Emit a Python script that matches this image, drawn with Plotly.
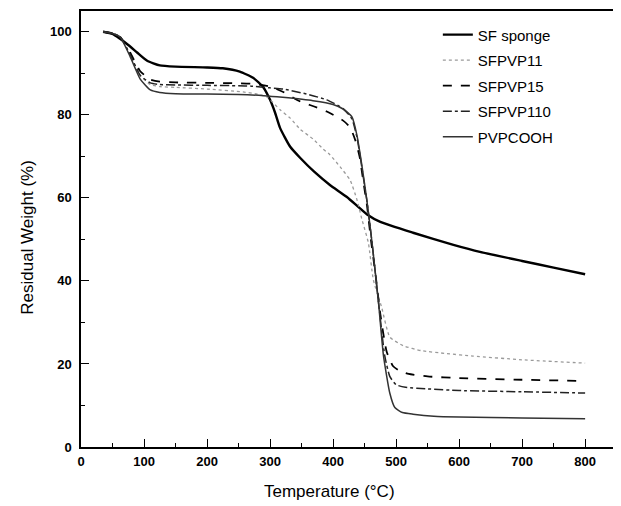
import plotly.graph_objects as go

# ---- data (Temperature in °C, Residual Weight in %) ----
sf_T = [35, 50, 62, 75, 89, 105, 125, 150, 200, 225, 252, 273, 289, 300, 308, 316, 332, 348, 370, 395, 422, 454, 475, 527, 591, 633, 700, 750, 800]
sf_W = [100, 99.5, 98.3, 96.8, 95.0, 93.0, 91.9, 91.6, 91.4, 91.2, 90.4, 88.9, 86.7, 83.6, 80.5, 76.8, 72.3, 69.6, 66.3, 63.1, 60.2, 56.0, 54.2, 51.6, 48.7, 47.0, 44.8, 43.2, 41.6]

p11_T = [35, 50, 62, 78, 94, 110, 125, 150, 200, 257, 280, 295, 316, 332, 348, 368, 384, 395, 411, 427, 438, 446, 456, 464, 477, 490, 511, 540, 580, 622, 700, 800]
p11_W = [100, 99.6, 98.8, 94.5, 89.5, 87.3, 86.8, 86.6, 86.2, 85.5, 85.0, 84.3, 81.2, 79.2, 76.5, 74.2, 71.8, 70.4, 67.5, 64.3, 59.5, 54.7, 49.2, 40.2, 33.7, 26.5, 24.4, 23.2, 22.5, 21.9, 21.0, 20.2]

p15_T = [35, 50, 62, 78, 94, 110, 125, 150, 200, 250, 270, 300, 321, 348, 370, 390, 416, 427, 435, 442, 448, 454, 460, 467, 475, 485, 495, 505, 520, 550, 600, 700, 800]
p15_W = [100, 99.6, 98.8, 95.0, 90.5, 88.5, 88.0, 87.8, 87.7, 87.6, 87.5, 86.8, 85.5, 83.2, 82.0, 80.8, 78.6, 77.0, 74.0, 70.0, 64.0, 58.0, 50.0, 42.0, 32.0, 23.0, 19.5, 18.4, 17.6, 17.0, 16.6, 16.2, 15.9]

p110_T = [35, 50, 62, 78, 94, 110, 125, 150, 200, 250, 270, 300, 321, 358, 390, 416, 430, 438, 443, 448, 454, 462, 472, 482, 490, 500, 515, 550, 600, 700, 800]
p110_W = [100, 99.6, 98.8, 94.5, 89.5, 87.7, 87.3, 87.2, 87.1, 87.0, 86.9, 86.5, 86.2, 85.0, 83.6, 81.5, 79.0, 74.5, 70.0, 65.0, 59.0, 49.0, 35.0, 22.0, 17.0, 15.0, 14.4, 14.0, 13.6, 13.3, 13.0]

pvp_T = [35, 50, 62, 78, 94, 110, 125, 150, 200, 250, 290, 320, 368, 400, 416, 430, 438, 443, 448, 454, 462, 472, 480, 490, 498, 510, 527, 560, 600, 700, 800]
pvp_W = [100, 99.6, 98.8, 94.0, 88.6, 86.0, 85.4, 85.1, 85.0, 84.9, 84.6, 84.2, 83.4, 82.5, 81.4, 79.5, 75.0, 70.5, 65.5, 59.0, 49.0, 35.0, 22.0, 13.0, 9.5, 8.3, 7.9, 7.4, 7.2, 7.0, 6.8]

series = [
    ("SF sponge", sf_T, sf_W, dict(color="black", width=2.4, dash="solid")),
    ("SFPVP11", p11_T, p11_W, dict(color="#9a9a9a", width=1.3, dash="dot")),
    ("SFPVP15", p15_T, p15_W, dict(color="black", width=1.8, dash="dash")),
    ("SFPVP110", p110_T, p110_W, dict(color="#222222", width=1.5, dash="dashdot")),
    ("PVPCOOH", pvp_T, pvp_W, dict(color="#333333", width=1.5, dash="solid")),
]

x_ticks = [0, 100, 200, 300, 400, 500, 600, 700, 800]
y_ticks = [0, 20, 40, 60, 80, 100]
x_title = "Temperature (°C)"
y_title = "Residual Weight (%)"

fig = go.Figure()
for i, (name, T, W, ln) in enumerate(series):
    fig.add_trace(go.Scatter(x=T, y=W, mode="lines", name=name,
                             line=dict(shape="spline", smoothing=0.5, **ln),
                             legendgroup=f"g{i}"))

tickfont = dict(family="Liberation Sans, Arial", size=13, color="black", weight="bold")
axis_common = dict(showline=True, linecolor="black", linewidth=1.5, mirror=True,
                   ticks="inside", ticklen=8, tickwidth=1.3, tickcolor="black",
                   showgrid=False, zeroline=False, tickfont=tickfont, automargin=False)

# the page body adds an 8px margin, so the figure is sized/offset to compensate
fig.update_layout(
    width=613, height=498,
    margin=dict(l=73, r=5, t=3, b=59),
    paper_bgcolor="white", plot_bgcolor="white",
    font=dict(family="Liberation Sans, Arial", color="black"),
    xaxis=dict(range=[0, 849], tickvals=x_ticks, ticktext=[str(v) for v in x_ticks],
               minor=dict(ticks="inside", ticklen=4, tickwidth=1.2, tickcolor="black", dtick=50, tick0=0),
               ticklabelstandoff=2, **axis_common),
    yaxis=dict(range=[0, 105], tickvals=y_ticks, ticktext=[str(v) for v in y_ticks],
               minor=dict(ticks="inside", ticklen=4, tickwidth=1.2, tickcolor="black", dtick=10, tick0=0),
               ticklabelstandoff=5, **axis_common),
    legend=dict(x=0.667, y=0.983, xanchor="left", yanchor="top", bgcolor="rgba(0,0,0,0)",
                borderwidth=0, font=dict(size=15, family="Liberation Sans, Arial", color="black"),
                traceorder="grouped", tracegroupgap=3),
    showlegend=True,
    annotations=[
        dict(text=x_title, xref="paper", yref="paper", x=0.465, y=-0.103, xanchor="center", yanchor="middle",
             showarrow=False, font=dict(size=17, family="Liberation Sans, Arial", color="black")),
        dict(text=y_title, xref="paper", yref="paper", x=-0.099, y=0.48, xanchor="center", yanchor="middle",
             textangle=-90, showarrow=False, font=dict(size=17, family="Liberation Sans, Arial", color="black")),
    ],
)

fig.write_html("out.html")
